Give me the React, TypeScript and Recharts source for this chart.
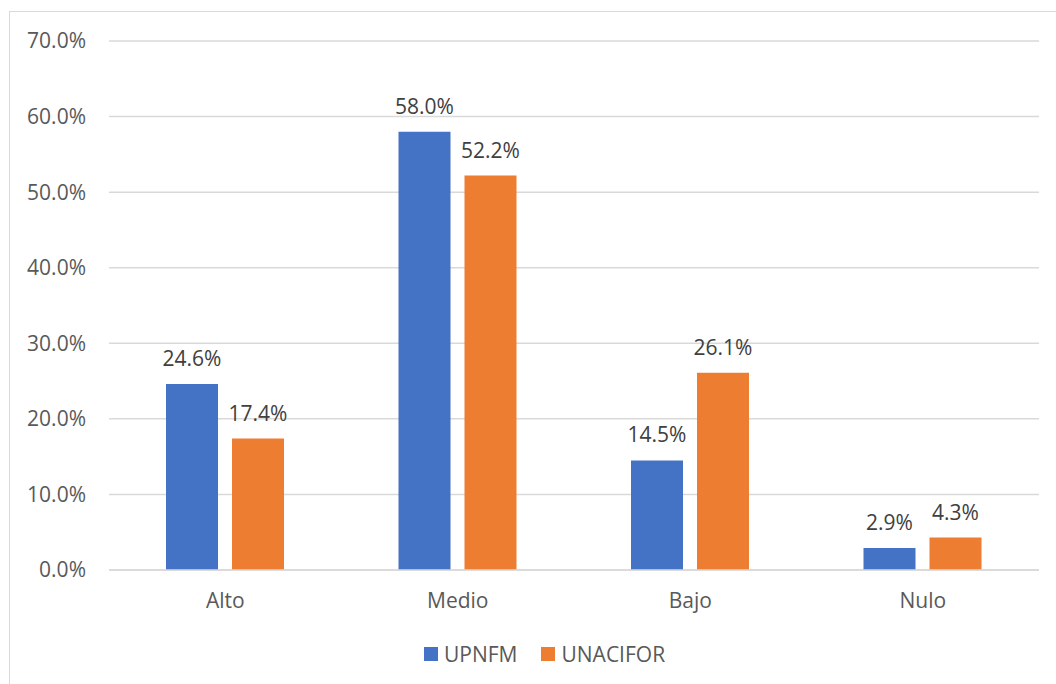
import React from 'react';
import { BarChart, Bar, XAxis, YAxis, CartesianGrid, Legend, LabelList } from 'recharts';

const categories = ['Alto', 'Medio', 'Bajo', 'Nulo'];
const upnfm = [24.6, 58.0, 14.5, 2.9];
const unacifor = [17.4, 52.2, 26.1, 4.3];
const yTicks = [0, 10, 20, 30, 40, 50, 60, 70];

const seriesNames = ['UPNFM', 'UNACIFOR'];
const seriesColors = ['#4472C4', '#ED7D31'];

const data = categories.map((c, i) => ({ name: c, UPNFM: upnfm[i], UNACIFOR: unacifor[i] }));

const FONT = '"Open Sans", sans-serif';
const pct = (v: number) => `${Number(v).toFixed(1)}%`;

const LegendContent = () => (
  <div style={{ display: 'flex', alignItems: 'center', fontFamily: FONT, fontSize: 21, color: '#595959' }}>
    {seriesNames.map((n, i) => (
      <div key={n} style={{ display: 'flex', alignItems: 'center', marginRight: i === 0 ? 24 : 0 }}>
        <span style={{ display: 'inline-block', width: 14, height: 14, background: seriesColors[i], marginRight: 6 }} />
        <span style={{ lineHeight: '28px' }}>{n}</span>
      </div>
    ))}
  </div>
);

export default function App() {
  return (
    <div style={{ position: 'absolute', left: 0, top: 0, width: 1056, height: 684, overflow: 'hidden', background: '#fff' }}>
      <div
        style={{
          position: 'absolute',
          left: 9,
          top: 11,
          width: 1047,
          height: 673,
          borderLeft: '1.5px solid #d9d9d9',
          borderTop: '1.5px solid #d9d9d9',
          boxSizing: 'border-box',
        }}
      />
      <BarChart
        width={1056}
        height={684}
        data={data}
        margin={{ top: 41, right: 17, left: 0, bottom: 84 }}
        barSize={52}
        barGap={14}
        style={{ position: 'absolute', left: 0, top: 0 }}
      >
        <CartesianGrid vertical={false} stroke="#d9d9d9" strokeWidth={1.5} />
        <XAxis
          dataKey="name"
          height={30}
          axisLine={{ stroke: '#d9d9d9', strokeWidth: 1.5 }}
          tickLine={false}
          tickMargin={17}
          tick={{ fill: '#595959', fontSize: 21, fontFamily: FONT }}
        />
        <YAxis
          width={109}
          domain={[0, 70]}
          ticks={yTicks}
          tickFormatter={pct}
          axisLine={false}
          tickLine={false}
          tickMargin={17}
          tick={{ fill: '#595959', fontSize: 21, fontFamily: FONT }}
        />
        <Legend
          verticalAlign="middle"
          align="center"
          layout="horizontal"
          content={<LegendContent />}
          wrapperStyle={{ left: 424, top: 640, width: 'auto' }}
        />
        {seriesNames.map((n, i) => (
          <Bar key={n} dataKey={n} fill={seriesColors[i]} isAnimationActive={false}>
            <LabelList
              dataKey={n}
              position="top"
              offset={18}
              formatter={(v: number) => pct(v)}
              style={{ fill: '#404040', fontSize: 21, fontFamily: FONT }}
            />
          </Bar>
        ))}
      </BarChart>
    </div>
  );
}
